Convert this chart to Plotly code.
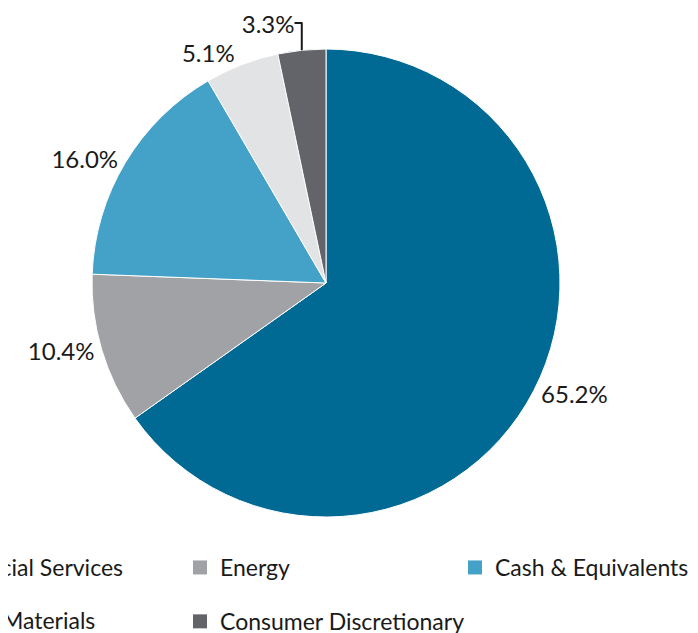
import plotly.graph_objects as go

categories = ["Financial Services", "Energy", "Cash & Equivalents", "Materials", "Consumer Discretionary"]
values = [65.2, 10.4, 16.0, 5.1, 3.3]
colors = ["#006A94", "#A1A2A6", "#44A1C7", "#E2E3E5", "#636469"]
legend_ids = ["legend", "legend2", "legend3", "legend4", "legend2"]

FONT = "Lato"
W, H = 698, 633

fig = go.Figure()
fig.add_trace(go.Pie(
    labels=categories,
    values=values,
    sort=False,
    direction="clockwise",
    rotation=0,
    marker=dict(colors=colors, line=dict(color="white", width=1)),
    textposition="outside",
    texttemplate="%{value:.1f}%",
    textfont=dict(family=FONT, size=24, color="#1a1a1a"),
    showlegend=False,
    hoverinfo="label+percent",
    domain=dict(x=[84 / W, 552 / W], y=[1 - 509 / H, 1 - 41 / H]),
))

for i, (name, col, lg) in enumerate(zip(categories, colors, legend_ids)):
    fig.add_trace(go.Scatter(
        x=[None], y=[None], mode="markers", name=name,
        marker=dict(symbol="square", size=14, color=col),
        legend=lg, legendgroup=f"g{i}", showlegend=True,
    ))

legend_common = dict(
    orientation="v", xref="paper", yref="paper", xanchor="left", yanchor="top",
    itemsizing="trace", tracegroupgap=21,
    font=dict(family=FONT, size=23, color="#1a1a1a"), bgcolor="rgba(0,0,0,0)",
)
y_top = 1 - 538 / H
y_row2 = 1 - 591 / H

fig.update_layout(
    width=W, height=H,
    margin=dict(l=0, r=0, t=0, b=0, autoexpand=False),
    paper_bgcolor="white", plot_bgcolor="white",
    xaxis=dict(visible=False), yaxis=dict(visible=False),
    legend=dict(x=-103 / W, y=y_top, **legend_common),
    legend2=dict(x=172 / W, y=y_top, **legend_common),
    legend3=dict(x=447 / W, y=y_top, **legend_common),
    legend4=dict(x=-46 / W, y=y_row2, **legend_common),
)

fig.write_html("out.html")
